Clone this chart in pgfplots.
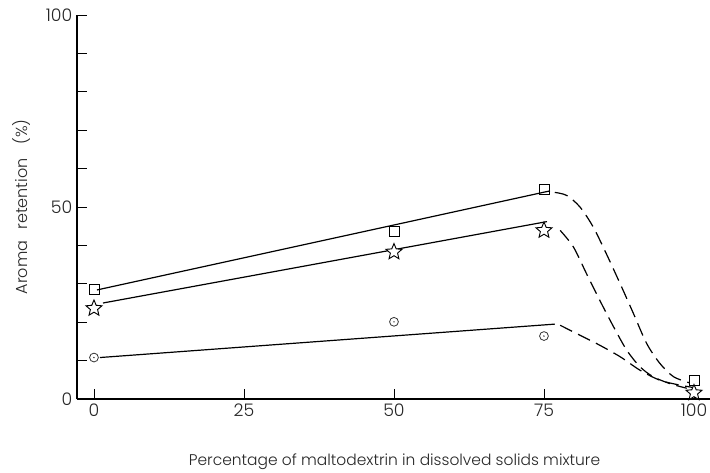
\documentclass[border=0pt]{standalone}
\usepackage{fontspec}
\setmainfont{Poppins}[UprightFont=* Light]
\usepackage{pgfplots}
\pgfplotsset{compat=1.18}

% outlined five-pointed star
\pgfdeclareplotmark{ostar}{%
  \pgfpathmoveto{\pgfpointpolar{90}{\pgfplotmarksize}}%
  \pgfpathlineto{\pgfpointpolar{126}{0.45\pgfplotmarksize}}%
  \pgfpathlineto{\pgfpointpolar{162}{\pgfplotmarksize}}%
  \pgfpathlineto{\pgfpointpolar{198}{0.45\pgfplotmarksize}}%
  \pgfpathlineto{\pgfpointpolar{234}{\pgfplotmarksize}}%
  \pgfpathlineto{\pgfpointpolar{270}{0.45\pgfplotmarksize}}%
  \pgfpathlineto{\pgfpointpolar{306}{\pgfplotmarksize}}%
  \pgfpathlineto{\pgfpointpolar{342}{0.45\pgfplotmarksize}}%
  \pgfpathlineto{\pgfpointpolar{18}{\pgfplotmarksize}}%
  \pgfpathlineto{\pgfpointpolar{54}{0.45\pgfplotmarksize}}%
  \pgfpathclose
  \pgfusepathqfillstroke
}
% circle with a centre dot
\pgfdeclareplotmark{odot}{%
  \pgfpathcircle{\pgfpointorigin}{\pgfplotmarksize}%
  \pgfusepathqstroke
  \pgfpathcircle{\pgfpointorigin}{0.18\pgfplotmarksize}%
  \pgfusepathqfill
}

\begin{document}
\begin{tikzpicture}
\useasboundingbox (-57.75pt,-54.75pt) rectangle (474.75pt,299.25pt);
\begin{axis}[
  at={(0,0)}, anchor=south west,
  scale only axis,
  width=474.75pt, height=288pt,
  xmin=-2.83, xmax=102.67,
  ymin=0, ymax=100,
  axis x line=bottom, axis y line=left,
  axis line style={-, line width=0.8pt},
  tick align=inside,
  major tick length=7.5pt,
  minor tick length=7.5pt,
  tick style={line width=0.7pt, black},
  xtick={0,25,50,75,100},
  ytick={0,50,100},
  minor ytick={10,20,30,40,60,70,80,90},
  /pgf/number format/assume math mode=true,
  ticklabel style={font=\fontsize{13}{15}\selectfont, text=black!85},
  xlabel style={font=\fontsize{11.6}{14}\selectfont, text=black!85,
    at={(axis description cs:0.5016,-0.164)}, anchor=center},
  ylabel style={font=\fontsize{12}{14}\selectfont, text=black!85,
    at={(axis description cs:-0.087,0.5)}, anchor=center},
  xlabel={Percentage of maltodextrin in dissolved solids mixture},
  ylabel={Aroma\hspace{5pt} retention\hspace{7pt} (\%)},
  clip=false,
]
% fitted lines
\addplot[line width=0.9pt, no markers] coordinates {(0.5,28.4) (76,54.2)};
\addplot[line width=0.9pt, no markers] coordinates {(1.5,25.0) (75.5,46.2)};
\addplot[line width=0.9pt, no markers] coordinates {(1,10.8) (76.8,19.5)};

% extrapolated curves towards 100 %
\addplot[line width=0.9pt, dash pattern=on 10pt off 5pt, smooth, no markers] coordinates {
  (76.8,53.8) (78.8,53.0) (81,50) (83.2,44.8) (85.4,37.8) (87.7,30) (89.9,22.3)
  (92.1,14.5) (94.3,9.3) (96.6,5.8) (99.3,4.2)};
\addplot[line width=0.9pt, dash pattern=on 10pt off 5pt, smooth, no markers] coordinates {
  (77.7,43.9) (79.9,39.6) (82.1,32.6) (84.3,25.7) (86.6,18.8) (88.8,12.7) (91,8.4)
  (93.2,5.8) (96,4) (98.8,2.8)};
\addplot[line width=0.9pt, dash pattern=on 10pt off 5pt, smooth, no markers] coordinates {
  (77.7,19.2) (81,16.6) (84.3,14) (87.7,11) (91,7.5) (94.3,4.9) (97.7,3.6) (99.9,3)};

% measured points
\addplot[only marks, mark=square, mark size=3.75pt, mark options={line width=0.7pt, fill=white}]
  coordinates {(0,28.6) (50,43.6) (75,54.5) (100,4.9)};
\addplot[only marks, mark=ostar, mark size=6.3pt, mark options={line width=0.7pt, fill=white}]
  coordinates {(0,23.6) (50,38.3) (75,43.9) (100,1.6)};
\addplot[only marks, mark=odot, mark size=3.3pt, mark options={line width=0.6pt, black!80}]
  coordinates {(0,10.8) (50,20.1) (75,16.4)};
\end{axis}
\end{tikzpicture}
\end{document}
